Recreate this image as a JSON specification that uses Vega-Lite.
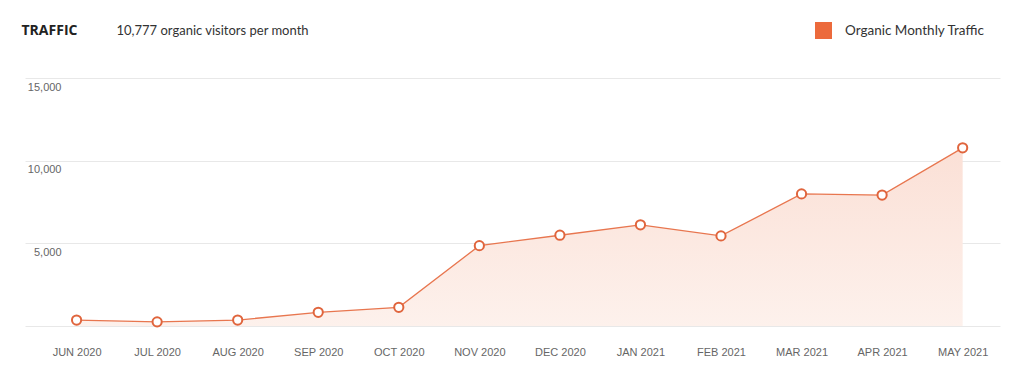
{
  "$schema": "https://vega.github.io/schema/vega-lite/v6.json",
  "width": 975,
  "height": 248,
  "autosize": {"type": "none"},
  "padding": {"left": 25, "top": 78, "right": 24, "bottom": 52},
  "background": "#ffffff",
  "data": {
    "values": [
      {"month": "JUN 2020", "visitors": 360, "series": "Organic Monthly Traffic"},
      {"month": "JUL 2020", "visitors": 250, "series": "Organic Monthly Traffic"},
      {"month": "AUG 2020", "visitors": 360, "series": "Organic Monthly Traffic"},
      {"month": "SEP 2020", "visitors": 830, "series": "Organic Monthly Traffic"},
      {"month": "OCT 2020", "visitors": 1130, "series": "Organic Monthly Traffic"},
      {"month": "NOV 2020", "visitors": 4860, "series": "Organic Monthly Traffic"},
      {"month": "DEC 2020", "visitors": 5490, "series": "Organic Monthly Traffic"},
      {"month": "JAN 2021", "visitors": 6120, "series": "Organic Monthly Traffic"},
      {"month": "FEB 2021", "visitors": 5450, "series": "Organic Monthly Traffic"},
      {"month": "MAR 2021", "visitors": 7990, "series": "Organic Monthly Traffic"},
      {"month": "APR 2021", "visitors": 7920, "series": "Organic Monthly Traffic"},
      {"month": "MAY 2021", "visitors": 10777, "series": "Organic Monthly Traffic"}
    ]
  },
  "encoding": {
    "x": {
      "field": "month",
      "type": "ordinal",
      "sort": null,
      "scale": {"type": "point", "padding": 0.552, "align": 0.58},
      "axis": {
        "title": "TRAFFIC",
        "titleX": -4,
        "titleY": -296,
        "titleAlign": "left",
        "titleBaseline": "middle",
        "titleFont": "Open Sans",
        "titleFontSize": 14,
        "titleFontWeight": "bold",
        "titleColor": "#222222",
        "domain": false,
        "ticks": false,
        "tickSize": 0,
        "grid": false,
        "labelAngle": 0,
        "labelBaseline": "middle",
        "labelPadding": 26,
        "labelFont": "Liberation Sans",
        "labelFontSize": 11,
        "labelColor": "#666666"
      }
    },
    "y": {
      "field": "visitors",
      "type": "quantitative",
      "scale": {"domain": [0, 15000], "nice": false},
      "axis": {
        "title": "10,777 organic visitors per month",
        "titleAngle": 0,
        "titleX": 91,
        "titleY": -48,
        "titleAlign": "left",
        "titleBaseline": "middle",
        "titleFont": "Lato",
        "titleFontSize": 13,
        "titleFontWeight": "normal",
        "titleColor": "#333333",
        "values": [0, 5000, 10000, 15000],
        "labelExpr": "datum.value == 0 ? '' : datum.label",
        "labelAlign": "right",
        "labelBaseline": "middle",
        "labelPadding": -36,
        "labelOffset": 9,
        "ticks": false,
        "tickSize": 0,
        "domain": false,
        "labelFont": "Liberation Sans",
        "labelFontSize": 11,
        "labelColor": "#666666",
        "grid": true,
        "gridColor": "#e8e8e8",
        "gridWidth": 1
      }
    }
  },
  "layer": [
    {
      "mark": {
        "type": "area",
        "fill": {
          "gradient": "linear",
          "x1": 0, "y1": 0, "x2": 0, "y2": 1,
          "stops": [
            {"offset": 0, "color": "#fbe0d6"},
            {"offset": 1, "color": "#fdf1ec"}
          ]
        }
      }
    },
    {
      "mark": {"type": "line", "strokeWidth": 1.3},
      "encoding": {
        "color": {
          "field": "series",
          "type": "nominal",
          "scale": {"range": ["#e8764f"]},
          "legend": {
            "title": null,
            "orient": "none",
            "legendX": 790,
            "legendY": -56,
            "padding": 0,
            "symbolType": "square",
            "symbolSize": 289,
            "symbolFillColor": "#ec6a3c",
            "symbolStrokeColor": "#ec6a3c",
            "symbolStrokeWidth": 0,
            "symbolOpacity": 1,
            "labelOffset": 13,
            "labelFont": "Lato",
            "labelFontSize": 13.5,
            "labelColor": "#333333"
          }
        }
      }
    },
    {
      "mark": {
        "type": "point",
        "filled": true,
        "fill": "#ffffff",
        "stroke": "#e0653d",
        "strokeWidth": 2,
        "size": 85,
        "opacity": 1
      }
    }
  ],
  "config": {"view": {"stroke": null}}
}
